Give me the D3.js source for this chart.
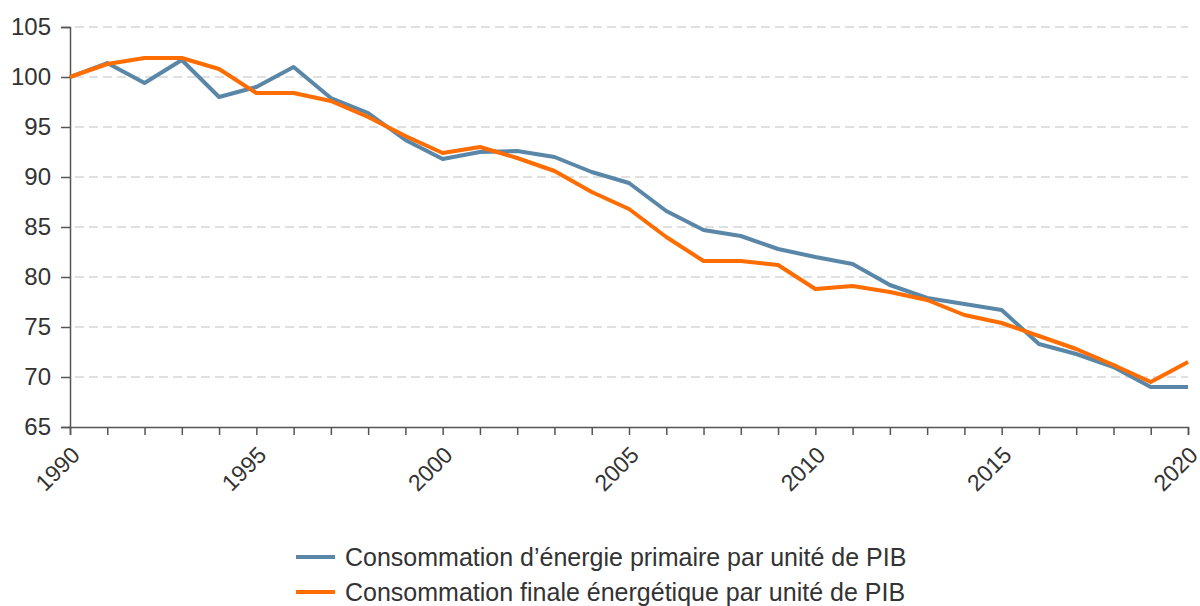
<!DOCTYPE html>
<html>
<head>
<meta charset="utf-8">
<script src="https://cdn.jsdelivr.net/npm/d3@7"></script>
<style>
  body { margin: 0; background: #fff; }
  svg { font-family: "Liberation Sans", Arial, Helvetica, sans-serif; }
</style>
</head>
<body>
<div id="chart"></div>
<script>
const years = d3.range(1990, 2021);
const primaire = [100, 101.4, 99.4, 101.7, 98.0, 99.0, 101.0, 97.9, 96.4, 93.7,
  91.8, 92.5, 92.6, 92.0, 90.5, 89.4, 86.6, 84.7, 84.1, 82.8,
  82.0, 81.3, 79.2, 77.9, 77.3, 76.7, 73.3, 72.3, 71.0, 69.0, 69.0];
const finale = [100, 101.3, 101.9, 101.9, 100.8, 98.4, 98.4, 97.6, 96.0, 94.1,
  92.4, 93.0, 91.9, 90.6, 88.5, 86.8, 84.0, 81.6, 81.6, 81.2,
  78.8, 79.1, 78.5, 77.7, 76.2, 75.4, 74.1, 72.8, 71.2, 69.5, 71.5];
const yTicks = [65, 70, 75, 80, 85, 90, 95, 100, 105];
const xLabels = [1990, 1995, 2000, 2005, 2010, 2015, 2020];
const seriesNames = [
  'Consommation d\u2019énergie primaire par unité de PIB',
  'Consommation finale énergétique par unité de PIB'
];
const colors = ['#5a87a8', '#ff6c00'];

const width = 1200, height = 606;
const margin = { top: 27, right: 12, bottom: 179, left: 70 };
const innerW = width - margin.left - margin.right;
const innerH = height - margin.top - margin.bottom;

const svg = d3.select('#chart').append('svg')
  .attr('width', width)
  .attr('height', height);

const g = svg.append('g')
  .attr('transform', `translate(${margin.left},${margin.top})`);

const x = d3.scaleLinear().domain([1990, 2020]).range([0, innerW]);
const y = d3.scaleLinear().domain([65, 105]).range([innerH, 0]);

// grid
g.append('g')
  .selectAll('line')
  .data(yTicks.filter(d => d > 65))
  .join('line')
  .attr('x1', 5)
  .attr('x2', innerW)
  .attr('y1', d => y(d))
  .attr('y2', d => y(d))
  .attr('stroke', '#d6d6d6')
  .attr('stroke-width', 1.5)
  .attr('stroke-dasharray', '9,5');

// y axis
const yAxis = g.append('g')
  .call(d3.axisLeft(y).tickValues(yTicks).tickSize(9).tickPadding(10));
yAxis.select('.domain').attr('stroke', '#555').attr('stroke-width', 1.5);
yAxis.selectAll('.tick line').attr('stroke', '#555').attr('stroke-width', 1.5);
yAxis.selectAll('text')
  .attr('font-size', 24)
  .attr('fill', '#333');

// x axis
const xAxis = g.append('g')
  .attr('transform', `translate(0,${innerH})`)
  .call(d3.axisBottom(x).tickValues(years).tickSize(8).tickFormat(''));
xAxis.select('.domain').attr('stroke', '#555').attr('stroke-width', 1.5);
xAxis.selectAll('.tick line').attr('stroke', '#555').attr('stroke-width', 1.5);

g.append('g')
  .selectAll('text')
  .data(xLabels)
  .join('text')
  .attr('transform', d => `translate(${x(d)},${innerH + 18}) rotate(-45)`)
  .attr('text-anchor', 'end')
  .attr('dy', '0.7em')
  .attr('font-size', 23)
  .attr('fill', '#333')
  .text(d => d);

// lines
const line = d3.line()
  .x((d, i) => x(years[i]))
  .y(d => y(d));

[primaire, finale].forEach((s, i) => {
  g.append('path')
    .datum(s)
    .attr('fill', 'none')
    .attr('stroke', colors[i])
    .attr('stroke-width', 4)
    .attr('stroke-linejoin', 'round')
    .attr('d', line);
});

// legend
const legend = svg.append('g')
  .attr('transform', 'translate(296,557)');
const item = legend.selectAll('g')
  .data(seriesNames)
  .join('g')
  .attr('transform', (d, i) => `translate(0,${i * 35})`);
item.append('line')
  .attr('x1', 0).attr('x2', 39)
  .attr('stroke', (d, i) => colors[i])
  .attr('stroke-width', 4);
item.append('text')
  .attr('x', 49)
  .attr('dy', '0.35em')
  .attr('font-size', 25)
  .attr('fill', '#333')
  .text(d => d);
</script>
</body>
</html>
